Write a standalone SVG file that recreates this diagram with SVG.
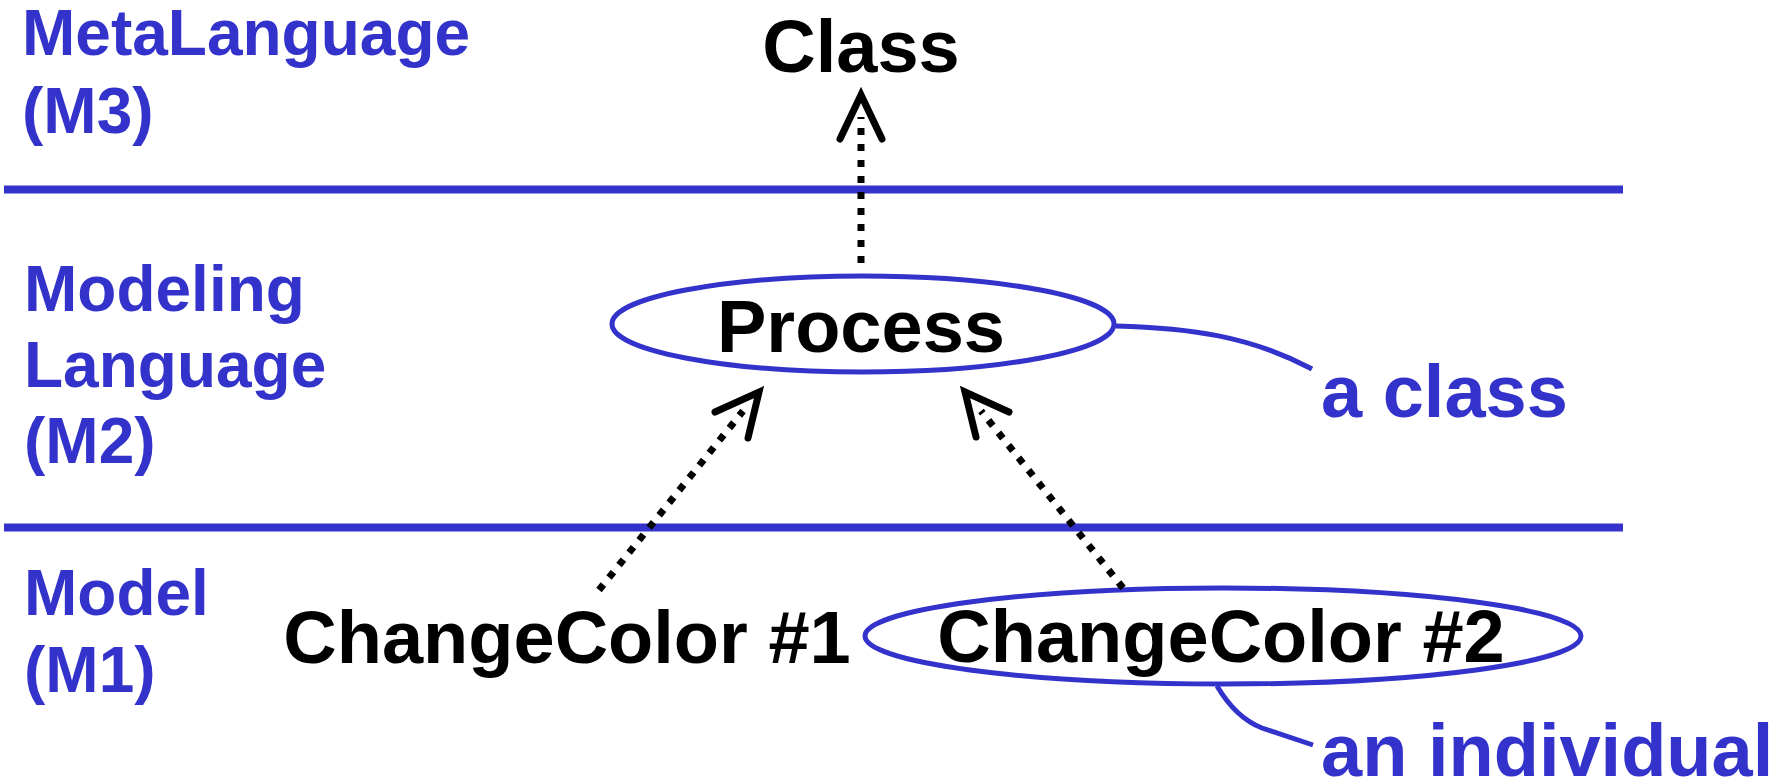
<svg xmlns="http://www.w3.org/2000/svg" width="1786" height="783" viewBox="0 0 1786 783">
  <style>
    .layer { font-family: "Liberation Sans", Arial, sans-serif; font-weight: bold; font-size: 64px; fill: #3333cc; }
    .name { font-family: "Liberation Sans", Arial, sans-serif; font-weight: bold; font-size: 74px; fill: #000; text-anchor: middle; }
    .note { font-family: "Liberation Sans", Arial, sans-serif; font-weight: bold; font-size: 74px; fill: #3333cc; }
    .rule { stroke: #3333cc; stroke-width: 8; }
    .oval { fill: none; stroke: #3333cc; stroke-width: 5; }
    .lead { fill: none; stroke: #3333cc; stroke-width: 5; }
    .dots { fill: none; stroke: #000; stroke-width: 7; stroke-dasharray: 7 9; }
    .head { fill: none; stroke: #000; stroke-width: 7; stroke-linecap: round; stroke-linejoin: miter; }
  </style>
  <rect width="1786" height="783" fill="#fff"/>

  <!-- layer separators -->
  <g id="separators">
    <line class="rule" x1="4" y1="189.5" x2="1623" y2="189.5"/>
    <line class="rule" x1="4" y1="527.5" x2="1623" y2="527.5"/>
  </g>

  <!-- layer labels -->
  <g id="label-m3">
    <text class="layer" x="22" y="55">MetaLanguage</text>
    <text class="layer" x="22" y="133">(M3)</text>
  </g>
  <g id="label-m2">
    <text class="layer" x="24" y="311">Modeling</text>
    <text class="layer" x="24" y="387">Language</text>
    <text class="layer" x="24" y="463">(M2)</text>
  </g>
  <g id="label-m1">
    <text class="layer" x="24" y="615">Model</text>
    <text class="layer" x="24" y="692">(M1)</text>
  </g>

  <!-- nodes -->
  <g id="node-class">
    <text class="name" x="861" y="72">Class</text>
  </g>
  <g id="node-process">
    <ellipse class="oval" cx="863" cy="324" rx="251" ry="48"/>
    <text class="name" x="861" y="352">Process</text>
  </g>
  <g id="node-changecolor1">
    <text class="name" x="567" y="663">ChangeColor #1</text>
  </g>
  <g id="node-changecolor2">
    <ellipse class="oval" cx="1223" cy="636" rx="358" ry="48"/>
    <text class="name" x="1221" y="662">ChangeColor #2</text>
  </g>

  <!-- annotations -->
  <g id="note-class">
    <path class="lead" d="M1116,326 C1190,328 1250,336 1312,369"/>
    <text class="note" x="1321" y="417">a class</text>
  </g>
  <g id="note-individual">
    <path class="lead" d="M1217,686 Q1236,718 1262,728 L1313,745"/>
    <text class="note" x="1321" y="776">an individual</text>
  </g>

  <!-- instance-of connectors -->
  <g id="connectors">
    <path class="dots" d="M861,263 L861,117"/>
    <polyline class="head" points="840,139 861,95 882,139"/>

    <path class="dots" d="M599,590 L743,411"/>
    <polyline class="head" points="715,412 759,392 748,438"/>

    <path class="dots" d="M1123,588 L981,411"/>
    <polyline class="head" points="1009,412 965,392 976,437"/>
  </g>
</svg>
